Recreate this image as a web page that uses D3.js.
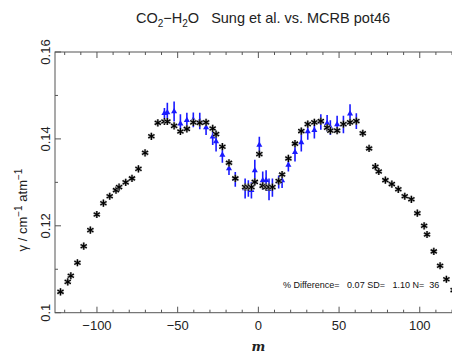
<!DOCTYPE html>
<html>
<head>
<meta charset="utf-8">
<script src="https://cdn.jsdelivr.net/npm/d3@7"></script>
<style>
  body { margin: 0; background: #fff; }
  svg { display: block; font-family: "Liberation Sans", Arial, sans-serif; }
</style>
</head>
<body>
<div id="chart"></div>
<script>
// calculated widths (asterisks)
const calcM = [-122.6, -118.1, -116.2, -112.1, -108.2, -104.1, -100.1, -96.0, -92.1, -88.2, -86.3,
  -82.2, -78.3, -74.3, -70.2, -66.3, -62.3, -58.2, -56.4, -52.2, -48.3, -44.3, -40.3, -36.3,
  -32.4, -28.3, -26.2, -22.3, -18.2, -14.3, -8.2, -6.2, -4.3, -2.2, 0.6, 2.7, 4.8, 6.6, 8.7,
  12.6, 14.7, 18.6, 22.7, 26.6, 30.6, 34.7, 38.7, 42.6, 44.6, 48.8, 52.7, 56.8, 60.7, 64.7,
  68.6, 72.5, 74.6, 78.7, 82.7, 86.7, 90.7, 94.8, 98.5, 102.7, 104.5, 108.7, 112.6, 116.5, 121.0];
const calcG = [0.1048, 0.1071, 0.1085, 0.1115, 0.1153, 0.1190, 0.1226, 0.1252, 0.1268, 0.1282, 0.1289,
  0.1300, 0.1309, 0.1331, 0.1368, 0.1406, 0.1437, 0.1440, 0.1440, 0.1430, 0.1417, 0.1423, 0.1438, 0.1437,
  0.1438, 0.1424, 0.1411, 0.1382, 0.1345, 0.1309, 0.1289, 0.1289, 0.1289, 0.1301, 0.1365, 0.1292, 0.1289, 0.1289, 0.1289,
  0.1303, 0.1318, 0.1355, 0.1389, 0.1418, 0.1434, 0.1438, 0.1441, 0.1426, 0.1419, 0.1419, 0.1434, 0.1438, 0.1441, 0.1413,
  0.1378, 0.1336, 0.1325, 0.1305, 0.1296, 0.1284, 0.1268, 0.1261, 0.1229, 0.1200, 0.1180, 0.1141, 0.1108, 0.1077, 0.1052];

// measured widths (blue triangles with error bars)
const measM = [-58.2, -56.4, -52.2, -48.3, -44.3, -40.3, -36.3, -32.4, -28.3, -26.2, -22.3, -18.2,
  -14.3, -8.2, -6.2, -4.3, -2.2, 0.6, 2.7, 4.8, 6.6, 8.7, 12.6, 14.7, 18.6, 22.7, 26.6, 30.6,
  34.7, 38.7, 42.6, 44.6, 48.8, 52.7, 56.8, 60.7];
const measG = [0.1459, 0.1461, 0.1463, 0.1435, 0.1443, 0.1444, 0.1441, 0.1426, 0.1405, 0.1394, 0.1363, 0.1332,
  0.1307, 0.1286, 0.1286, 0.1282, 0.1327, 0.1386, 0.1304, 0.1305, 0.1284, 0.1288, 0.1301, 0.1304, 0.1340, 0.1369, 0.1392, 0.1417,
  0.1420, 0.1439, 0.1436, 0.1426, 0.1433, 0.1433, 0.1458, 0.1441];
const measErr = [0.0012, 0.0022, 0.0023, 0.0022, 0.0017, 0.0017, 0.0019, 0.0017, 0.0019, 0.0023, 0.0018, 0.0015,
  0.0017, 0.0023, 0.0019, 0.0019, 0.0025, 0.0019, 0.0021, 0.0023, 0.0025, 0.0021, 0.0015, 0.0017, 0.0015, 0.0021, 0.0021, 0.0019,
  0.0019, 0.0018, 0.0019, 0.0017, 0.0020, 0.0020, 0.0022, 0.0018];

const xTicks = [-100, -50, 0, 50, 100];
const yTicks = [0.1, 0.12, 0.14, 0.16];

const W = 452, H = 356;
const pLeft = 55, pTop = 52, pBottom = 312.7, pRight = 458.5;

const svg = d3.select('#chart').append('svg')
    .attr('width', W)
    .attr('height', H);

const x = d3.scaleLinear().domain([-126, 124]).range([pLeft, pRight]);
const y = d3.scaleLinear().domain([0.1, 0.16]).range([pBottom, pTop]);

const axisColor = '#555';

// frame
svg.append('rect')
    .attr('x', pLeft).attr('y', pTop)
    .attr('width', pRight - pLeft).attr('height', pBottom - pTop)
    .attr('fill', 'none').attr('stroke', axisColor).attr('stroke-width', 1);

// ticks (inward, on all sides)
const ticks = svg.append('g').attr('stroke', axisColor).attr('stroke-width', 1);
d3.range(-120, 121, 10).forEach(v => {
    const len = v % 50 === 0 ? 6 : 3;
    const px = x(v);
    ticks.append('line').attr('x1', px).attr('x2', px).attr('y1', pBottom).attr('y2', pBottom - len);
    ticks.append('line').attr('x1', px).attr('x2', px).attr('y1', pTop).attr('y2', pTop + len);
});
d3.range(10, 17).forEach(k => {
    const len = k % 2 === 0 ? 6 : 3;
    const py = y(k / 100);
    ticks.append('line').attr('x1', pLeft).attr('x2', pLeft + len).attr('y1', py).attr('y2', py);
    ticks.append('line').attr('x1', pRight).attr('x2', pRight - len).attr('y1', py).attr('y2', py);
});

// tick labels
svg.append('g').selectAll('text').data(xTicks).enter().append('text')
    .attr('x', d => x(d))
    .attr('y', 330)
    .attr('text-anchor', 'middle')
    .attr('font-size', 13)
    .attr('fill', '#222')
    .text(d => d < 0 ? '\u2212' + Math.abs(d) : d);

svg.append('g').selectAll('text').data(yTicks).enter().append('text')
    .attr('transform', d => `translate(50, ${y(d)}) rotate(-90)`)
    .attr('text-anchor', 'middle')
    .attr('font-size', 13)
    .attr('fill', '#222')
    .text(d => d === 0.1 ? '0.1' : d.toFixed(2));

// axis titles
const yl = svg.append('text')
    .attr('transform', 'translate(27, 210) rotate(-90)')
    .attr('text-anchor', 'middle')
    .attr('font-size', 13)
    .attr('fill', '#222');
yl.append('tspan').text('\u03b3 / cm');
yl.append('tspan').attr('dy', -5).attr('font-size', 10).text('\u22121');
yl.append('tspan').attr('dy', 5).text(' atm');
yl.append('tspan').attr('dy', -5).attr('font-size', 10).text('\u22121');

svg.append('text')
    .attr('x', x(0)).attr('y', 351)
    .attr('text-anchor', 'middle')
    .attr('font-family', '"DejaVu Serif", serif')
    .attr('font-style', 'italic')
    .attr('font-weight', 'bold')
    .attr('font-size', 13)
    .attr('fill', '#222')
    .text('m');

// title
const title = svg.append('text')
    .attr('x', 263).attr('y', 23)
    .attr('text-anchor', 'middle')
    .attr('font-size', 14.5)
    .attr('fill', '#222');
title.append('tspan').text('CO');
title.append('tspan').attr('dy', 4).attr('font-size', 10).text('2');
title.append('tspan').attr('dy', -4).text('\u2212H');
title.append('tspan').attr('dy', 4).attr('font-size', 10).text('2');
title.append('tspan').attr('dy', -4).text('O\u00a0\u00a0\u00a0Sung et al. vs. MCRB pot46');

// annotation
svg.append('text')
    .attr('x', 283).attr('y', 288)
    .attr('font-size', 9)
    .attr('fill', '#111')
    .text('% Difference=\u00a0\u00a0 0.07 SD=\u00a0\u00a0 1.10 N=\u00a0 36');

// plot area clip
svg.append('clipPath').attr('id', 'clip')
  .append('rect').attr('x', pLeft).attr('y', pTop)
    .attr('width', pRight - pLeft).attr('height', pBottom - pTop);
const plot = svg.append('g').attr('clip-path', 'url(#clip)');

// measured: error bars + triangles
const meas = measM.map((m, i) => ({ m, g: measG[i], e: measErr[i] }));
plot.append('g').selectAll('line').data(meas).enter().append('line')
    .attr('x1', d => x(d.m)).attr('x2', d => x(d.m))
    .attr('y1', d => y(d.g + d.e)).attr('y2', d => y(d.g - d.e))
    .attr('stroke', '#1a1aff').attr('stroke-width', 1.6);
const tri = d3.symbol().type(d3.symbolTriangle).size(16);
plot.append('g').selectAll('path').data(meas).enter().append('path')
    .attr('d', tri)
    .attr('transform', d => `translate(${x(d.m)}, ${y(d.g)})`)
    .attr('fill', '#1a1aff');

// calculated: asterisks
const calc = calcM.map((m, i) => ({ m, g: calcG[i] }));
const r = 3.6;
const starPath = d3.range(3).map(k => {
    const a = Math.PI / 2 + k * Math.PI / 3;
    const dx = r * Math.cos(a), dy = r * Math.sin(a);
    return `M${-dx},${-dy}L${dx},${dy}`;
}).join('');
const stars = plot.append('g').selectAll('g').data(calc).enter().append('g')
    .attr('transform', d => `translate(${x(d.m)}, ${y(d.g)})`);
stars.append('path').attr('d', starPath)
    .attr('stroke', '#aaa').attr('stroke-width', 2.4).attr('fill', 'none');
stars.append('path').attr('d', starPath)
    .attr('stroke', '#000').attr('stroke-width', 1.2).attr('fill', 'none');
</script>
</body>
</html>
